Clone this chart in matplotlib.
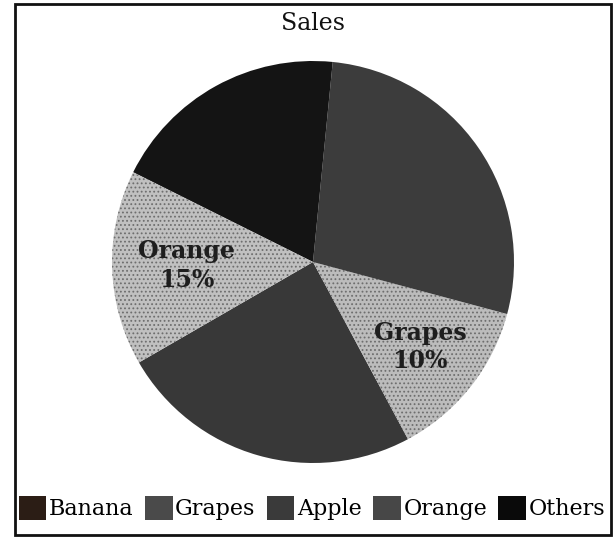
import matplotlib
matplotlib.use("Agg")
import matplotlib.pyplot as plt
import matplotlib.patches as mpatches
import numpy as np

# slices in drawing order (counterclockwise)
fruits = ["Banana", "Grapes", "Apple", "Others", "Orange"]
sales = [24.5, 13.0, 27.6, 19.2, 15.7]
pie_colors = ["#383838", "#bcbcbc", "#3c3c3c", "#141414", "#c0c0c0"]
slice_labels = ["", "Grapes\n10%", "", "", "Orange\n15%"]

# legend as printed
legend_names = ["Banana", "Grapes", "Apple", "Orange", "Others"]
legend_colors = ["#2b1d15", "#4a4a4a", "#3a3a3a", "#474747", "#0a0a0a"]

plt.rcParams["font.family"] = ["DejaVu Serif"]
plt.rcParams["hatch.linewidth"] = 0.8

W, H = 615, 537
fig = plt.figure(figsize=(W / 100, H / 100), dpi=100)

cx, cy, r = 313, 262, 201
ax = fig.add_axes([(cx - r) / W, (H - cy - r) / H, 2 * r / W, 2 * r / H])

wedges, _ = ax.pie(sales, colors=pie_colors, startangle=-150, counterclock=True,
                   radius=1, wedgeprops=dict(linewidth=0))
# stippled light slices
for w, lab in zip(wedges, slice_labels):
    if lab:
        w.set_hatch("....")
        w.set_edgecolor("#6e6e6e")
        w.set_linewidth(0)

for w, lab in zip(wedges, slice_labels):
    if lab:
        mid = np.deg2rad((w.theta1 + w.theta2) / 2)
        rr = 0.63 if "Orange" in lab else 0.68
        ax.text(rr * np.cos(mid), rr * np.sin(mid), lab, ha="center", va="center",
                fontsize=17, fontweight="bold", color="#1e1e1e", linespacing=1.25)

ax.set_xlim(-1, 1)
ax.set_ylim(-1, 1)
ax.set_aspect("equal")
ax.axis("off")

fig.text(cx / W, 1 - 23 / H, "Sales", ha="center", va="center", fontsize=17, color="#111111")

# outer frame
fig.patches.append(mpatches.Rectangle((15 / W, 2 / H), 596 / W, 531 / H, transform=fig.transFigure,
                                      fill=False, edgecolor="#111111", linewidth=2))

handles = [mpatches.Patch(facecolor=c, edgecolor="none") for c in legend_colors]
fig.legend(handles, legend_names, loc="center", bbox_to_anchor=(312 / W, 1 - 508 / H), ncol=5,
           frameon=False, fontsize=16, handlelength=1.25, handleheight=1.3, handletextpad=0.12,
           columnspacing=0.5, borderpad=0)

fig.savefig("out.png", dpi=100)
